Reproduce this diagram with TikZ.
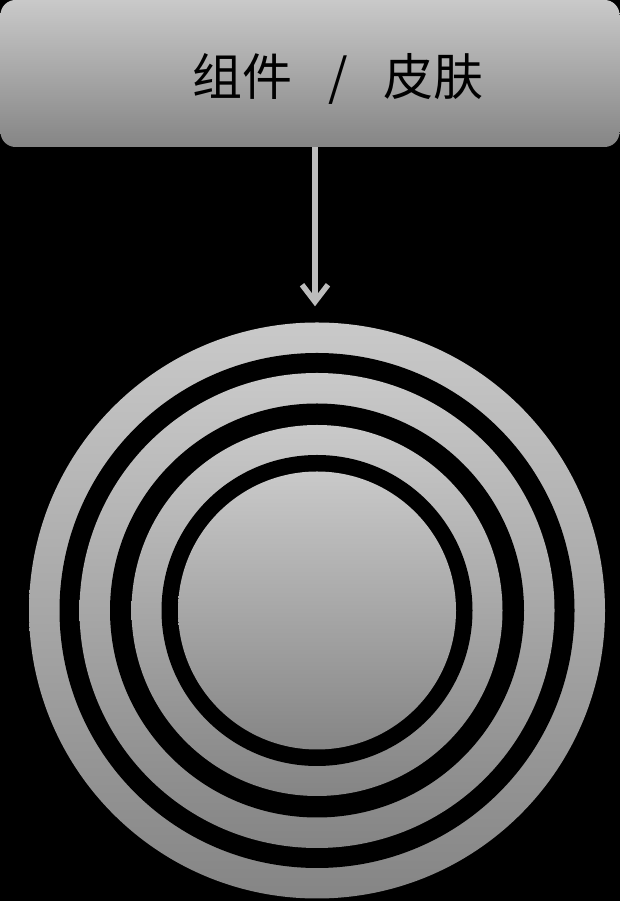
\documentclass[tikz,border=0pt]{standalone}
\usepackage{fontspec}
\newfontfamily\cjk{Noto Sans CJK SC}
\usetikzlibrary{arrows.meta}
\definecolor{pale}{HTML}{C9C9C9}
\definecolor{dusk}{HTML}{858585}
\definecolor{wire}{HTML}{BDBDBD}

\begin{document}
\begin{tikzpicture}[x=1pt,y=1pt,
  disc/.style={circle,inner sep=0pt,top color=pale,bottom color=dusk},
  hole/.style={circle,inner sep=0pt,fill=black}]
  \fill[black] (0,0) rectangle (620,901);
  \useasboundingbox (0,0) rectangle (620,901);
  \node[rounded corners=15pt,top color=pale,bottom color=dusk,minimum width=619pt,minimum height=147pt,inner sep=0pt,font=\cjk\fontsize{50pt}{60pt}\selectfont] (skin) at (310,827.5) {\hspace*{56pt}\raisebox{-5pt}[\height][\depth]{组件\hspace{36pt}/\hspace{36pt}皮肤}};
  % concentric rings
  \node[disc,minimum size=576pt] (ring1) at (317,290.5) {};
  \node[hole,minimum size=515pt] (gap1) at (ring1.center) {};
  \node[disc,minimum size=475pt] (ring2) at (ring1.center) {};
  \node[hole,minimum size=414pt] (gap2) at (ring1.center) {};
  \node[disc,minimum size=371pt] (ring3) at (ring1.center) {};
  \node[hole,minimum size=311pt] (gap3) at (ring1.center) {};
  \node[disc,minimum size=278pt] (core) at (ring1.center) {};
  \draw[wire,line width=5.5pt,-{Straight Barb[length=17pt,width=26pt]},shorten >=16pt] ([xshift=-2pt]skin.south -| ring1.north) -- ([xshift=-2pt]ring1.north);
\end{tikzpicture}
\end{document}
